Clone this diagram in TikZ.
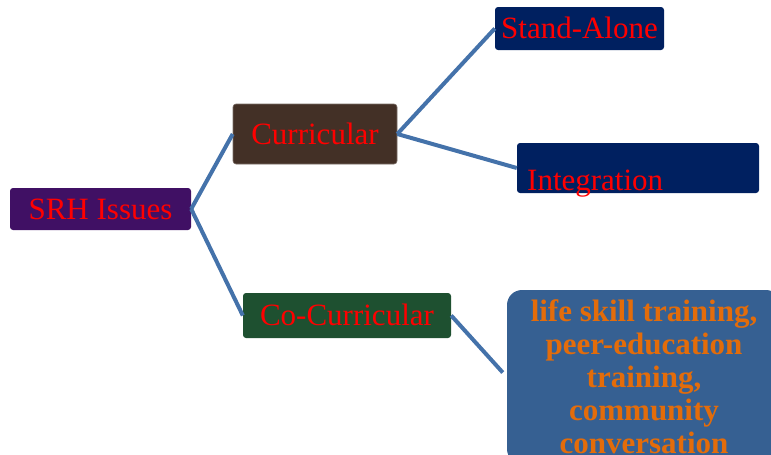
\documentclass[tikz,border=0pt]{standalone}
\usepackage{fontspec}
\setmainfont{Liberation Serif}
\definecolor{srhpurple}{RGB}{64,16,100}
\definecolor{curbrown}{RGB}{67,48,38}
\definecolor{boxnavy}{RGB}{0,32,96}
\definecolor{cogreen}{RGB}{30,80,48}
\definecolor{bigblue}{RGB}{54,96,146}
\definecolor{linkblue}{RGB}{68,114,170}
\definecolor{txtorange}{RGB}{227,108,10}
\begin{document}
\begin{tikzpicture}[x=1pt,y=-1pt,
  box/.style={rectangle, rounded corners=3pt, inner sep=0pt, text=red,
    font=\fontsize{31}{35}\selectfont, text height=24pt, text depth=4pt},
  link/.style={draw=linkblue, line width=4pt},
]
\useasboundingbox (0,0) rectangle (771,455);
\node[box, fill=srhpurple, minimum width=181pt, minimum height=42pt] (srh) at (100.5,209) {SRH Issues};
\node[box, fill=curbrown, draw=curbrown!70!white, line width=0.6pt, minimum width=164pt, minimum height=60pt] (cur) at (315,134) {Curricular};
\node[box, fill=boxnavy, minimum width=169pt, minimum height=43pt] (sa) at (579.5,28.5) {Stand-Alone};
\node[box, fill=boxnavy, minimum width=242pt, minimum height=50pt] (int) at (638,168) {};
\node[anchor=base west, inner sep=0pt, text=red, font=\fontsize{31}{35}\selectfont] (inttext) at (527,190) {Integration};
\node[box, fill=cogreen, minimum width=208pt, minimum height=45pt] (co) at (347,315.5) {Co-Curricular};
\node[rectangle, rounded corners=15pt, fill=bigblue, minimum width=274pt, minimum height=174pt, inner sep=0pt,
  text=txtorange, align=center, font=\fontsize{31}{33}\selectfont\bfseries] (big) at (644,377)
  {life skill training,\\peer-education\\training,\\community\\conversation};
\draw[link] (srh.east) -- (cur.west);
\draw[link] (srh.east) -- (co.west);
\draw[link] (cur.east) -- (sa.west);
\draw[link] (cur.east) -- (int.west);
\draw[link, shorten >=6pt] (co.east) -- (big.west);
\end{tikzpicture}
\end{document}
